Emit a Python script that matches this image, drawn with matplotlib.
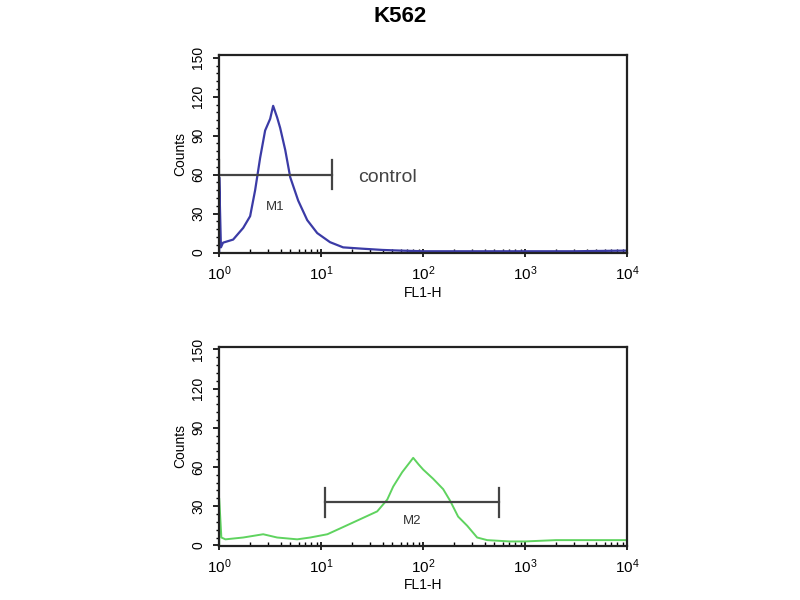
import numpy as np
import matplotlib
matplotlib.use("Agg")
import matplotlib.pyplot as plt
from matplotlib.ticker import MultipleLocator, LogLocator, NullFormatter

plt.rcParams['font.family'] = ['Liberation Sans', 'DejaVu Sans']

# control histogram (top panel), FL1-H vs counts
ctrl_x = [1.0, 1.0, 1.04, 1.09, 1.37, 1.72, 2.01, 2.25, 2.52, 2.82, 3.16, 3.38,
          3.70, 3.96, 4.44, 4.97, 5.95, 7.29, 9.14, 12.2, 16.4, 25, 40, 60,
          100, 200, 500, 1000, 3000, 10000]
ctrl_y = [0, 58, 4, 7.6, 10, 19, 28, 48, 73, 94, 103, 113,
          104, 96, 79, 58, 40, 25, 15, 8, 4, 3, 2, 1.5,
          1, 1, 1, 1, 1, 1.5]

# K562 sample histogram (bottom panel)
samp_x = [1.0, 1.0, 1.05, 1.15, 1.72, 2.70, 3.70, 5.82, 7.80, 11.5, 16.4, 24.1,
          35.4, 44.4, 50.8, 62.2, 74.6, 79.8, 90, 100, 125, 157, 184, 220,
          270, 338, 424, 700, 1000, 2000, 5000, 10000]
samp_y = [0, 36, 6, 4.6, 6, 8.5, 6, 4.6, 6, 8.5, 14, 20,
          26, 35, 45, 56, 64, 67, 62, 58, 51, 43, 34, 22,
          15, 6, 4, 3, 3, 4, 4, 4]

# marker gates: start, end, height
m1 = (1.0, 12.8, 60)
m2 = (11.0, 556, 33)

fig = plt.figure(figsize=(8, 6), dpi=100)
fig.text(0.5, 0.972, "K562", ha="center", va="center", fontsize=16, fontweight="bold")

ax1 = fig.add_axes([0.274, 0.578, 0.510, 0.330])
ax2 = fig.add_axes([0.274, 0.090, 0.510, 0.332])


def style(ax):
    ax.set_xscale("log")
    ax.set_xlim(1, 10000)
    ax.set_ylim(-0.5, 152)
    ax.set_yticks([0, 30, 60, 90, 120, 150])
    ax.yaxis.set_minor_locator(MultipleLocator(6))
    ax.xaxis.set_major_locator(LogLocator(base=10, numticks=10))
    ax.xaxis.set_minor_locator(LogLocator(base=10, subs=np.arange(2, 10), numticks=10))
    ax.xaxis.set_minor_formatter(NullFormatter())
    ax.tick_params(axis="y", which="major", direction="out", length=4, width=1.2,
                   labelsize=10, labelrotation=90, pad=6)
    ax.tick_params(axis="y", which="minor", direction="out", length=2.5, width=1)
    ax.tick_params(axis="x", which="major", direction="inout", length=6, width=1.2,
                   labelsize=11, pad=5)
    ax.tick_params(axis="x", which="minor", direction="in", length=3, width=1)
    for lab in ax.get_yticklabels():
        lab.set_va("center")
    for s in ax.spines.values():
        s.set_linewidth(1.6)
        s.set_color("#222222")
    ax.set_xlabel("FL1-H", fontsize=10, labelpad=2)
    ax.set_ylabel("Counts", fontsize=10, labelpad=3)


style(ax1)
style(ax2)

ax1.plot(ctrl_x, ctrl_y, color="#3b3ba6", lw=1.6)
ax2.plot(samp_x, samp_y, color="#5fd35f", lw=1.4)


def gate(ax, g, label, dy):
    x0, x1, h = g
    ax.plot([x0, x1], [h, h], color="#444444", lw=1.6)
    ax.plot([x0, x0], [h - 11, h + 11], color="#444444", lw=1.6)
    ax.plot([x1, x1], [h - 11, h + 11], color="#444444", lw=1.6)
    ax.text(np.sqrt(x0 * x1), h - dy, label, ha="center", va="center", fontsize=9.5,
            color="#333333")


gate(ax1, m1, "M1", 25)
gate(ax2, m2, "M2", 14)
ax1.text(23, 58, "control", ha="left", va="center", fontsize=14, color="#444444")

fig.savefig("out.png", dpi=100)
